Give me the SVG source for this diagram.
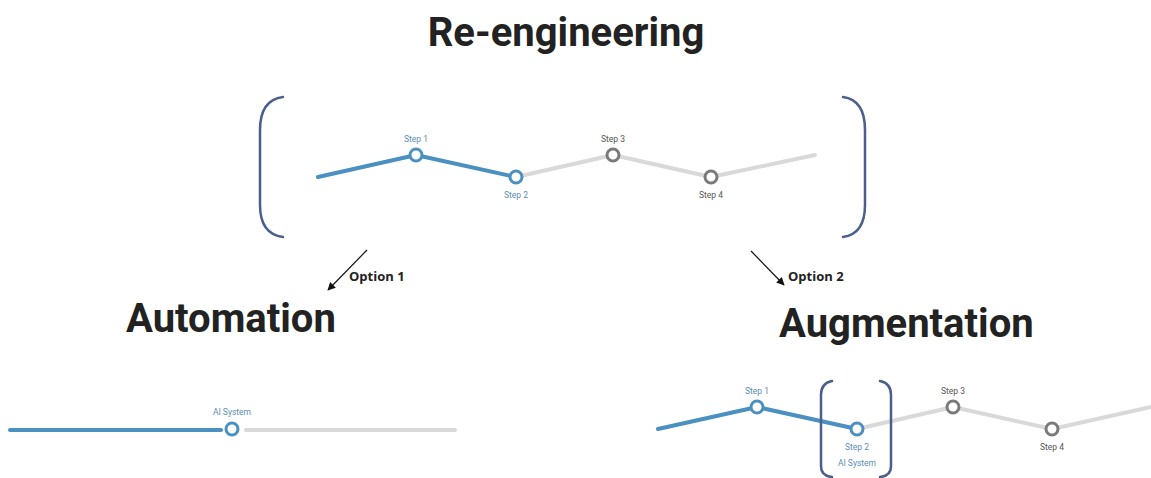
<svg xmlns="http://www.w3.org/2000/svg" width="1151" height="478" viewBox="0 0 1151 478">
<defs>
<style>
.title{font-family:Roboto,"Liberation Sans",sans-serif;font-weight:bold;fill:#222;}
.opt{font-family:"Open Sans","Liberation Sans",sans-serif;font-weight:bold;font-size:13px;fill:#222;}
.lbl{font-family:Roboto,"Liberation Sans",sans-serif;font-size:8.5px;text-anchor:middle;}
.lb{fill:#5a8db3;}
.lg{fill:#555;}
.blue{stroke:#4a90c0;stroke-width:4;fill:none;stroke-linecap:round;stroke-linejoin:round;}
.gray{stroke:#d9d9d9;stroke-width:4;fill:none;stroke-linecap:round;stroke-linejoin:round;}
.cb{fill:#fff;stroke:#4a90c0;stroke-width:3;}
.cg{fill:#fff;stroke:#7a7a7a;stroke-width:3;}
.br{fill:none;stroke:#4a5f8c;stroke-width:2.5;stroke-linecap:round;}
.arr{stroke:#111;stroke-width:1.2;fill:none;}
</style>
<marker id="ah" viewBox="0 0 10 10" refX="9" refY="5" markerWidth="8" markerHeight="8" orient="auto" markerUnits="userSpaceOnUse">
<path d="M0,0 L10,5 L0,10 z" fill="#111"/>
</marker>
</defs>
<rect width="1151" height="478" fill="#fff"/>

<g id="title-reengineering"><text class="title" x="566" y="46" font-size="40" text-anchor="middle">Re-engineering</text></g>

<g id="top-process">
<path class="br" d="M283,97 Q260,100 260,130 L260,205 Q260,234 283,237"/>
<path class="br" d="M843,97 Q865,100 865,130 L865,205 Q865,234 843,237"/>
<polyline class="gray" points="516,177 613,155 711,177 815,155"/>
<polyline class="blue" points="318,177 416,155 516,177"/>
<circle class="cb" cx="416" cy="155" r="6"/>
<circle class="cb" cx="516" cy="177" r="6"/>
<circle class="cg" cx="613" cy="155" r="6"/>
<circle class="cg" cx="711" cy="177" r="6"/>
<text class="lbl lb" x="416" y="142">Step 1</text>
<text class="lbl lb" x="516" y="198">Step 2</text>
<text class="lbl lg" x="613" y="142">Step 3</text>
<text class="lbl lg" x="711" y="198">Step 4</text>
</g>

<g id="connectors">
<line class="arr" x1="367" y1="250" x2="328" y2="290" marker-end="url(#ah)"/>
<line class="arr" x1="751" y1="251" x2="784" y2="285" marker-end="url(#ah)"/>
<text class="opt" x="349" y="281">Option 1</text>
<text class="opt" x="788" y="281">Option 2</text>
</g>

<g id="automation">
<text class="title" x="126" y="332" font-size="40">Automation</text>
<line class="blue" x1="10" y1="430" x2="221" y2="430"/>
<line class="gray" x1="246" y1="430" x2="455" y2="430"/>
<circle class="cb" cx="232" cy="429" r="6"/>
<text class="lbl lb" x="232" y="415">AI System</text>
</g>

<g id="augmentation">
<text class="title" x="779" y="337" font-size="40">Augmentation</text>
<polyline class="gray" points="857,429 953,407 1052,429 1151,407"/>
<polyline class="blue" points="658,429 757,407 857,429"/>
<path class="br" d="M832,381 Q821,383 821,395 L821,466 Q821,476 832,477"/>
<path class="br" d="M880,381 Q891,383 891,395 L891,466 Q891,476 880,477"/>
<circle class="cb" cx="757" cy="407" r="6"/>
<circle class="cb" cx="857" cy="429" r="6"/>
<circle class="cg" cx="953" cy="407" r="6"/>
<circle class="cg" cx="1052" cy="429" r="6"/>
<text class="lbl lb" x="757" y="394">Step 1</text>
<text class="lbl lb" x="857" y="450">Step 2</text>
<text class="lbl lb" x="857" y="466">AI System</text>
<text class="lbl lg" x="953" y="394">Step 3</text>
<text class="lbl lg" x="1052" y="450">Step 4</text>
</g>
</svg>
